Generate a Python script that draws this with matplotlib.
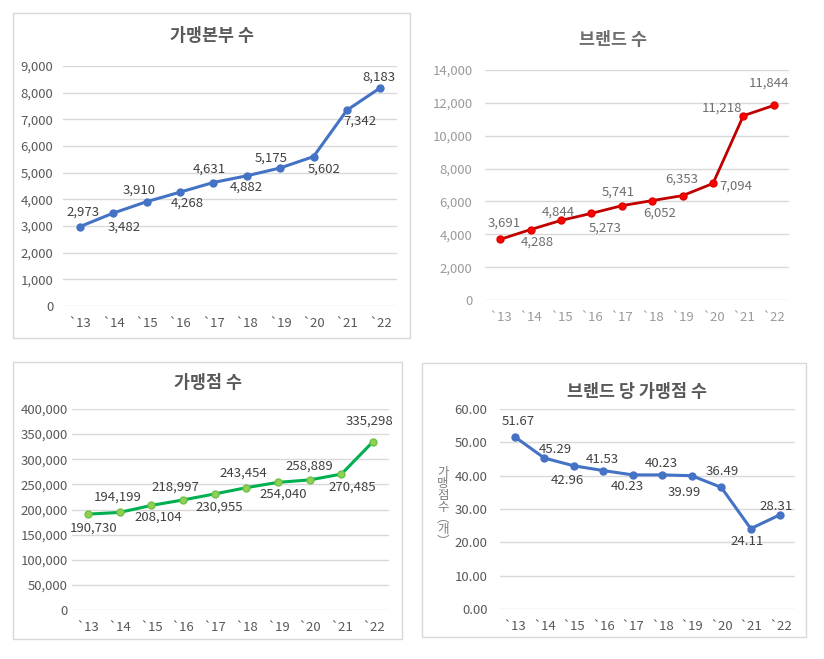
import matplotlib.pyplot as plt
from matplotlib.patches import Rectangle

plt.rcParams['font.family'] = ['Noto Sans CJK KR', 'DejaVu Sans']

# ============================================================
# Data
# ============================================================
years = ['`13', '`14', '`15', '`16', '`17', '`18', '`19', '`20', '`21', '`22']

hq_counts = [2973, 3482, 3910, 4268, 4631, 4882, 5175, 5602, 7342, 8183]
brand_counts = [3691, 4288, 4844, 5273, 5741, 6052, 6353, 7094, 11218, 11844]
store_counts = [190730, 194199, 208104, 218997, 230955, 243454, 254040, 258889, 270485, 335298]
stores_per_brand = [51.67, 45.29, 42.96, 41.53, 40.23, 40.23, 39.99, 36.49, 24.11, 28.31]

# label offsets in pixels (dx, dy) relative to each point
off_hq = [(3, 15), (11, -14), (-7, 12), (7, -11), (-4, 13), (0, -11), (-9, 10), (11, -13), (13, -11), (-1, 11)]
off_brand = [(4, 16), (7, -13), (-3, 8), (14, -15), (-4, 14), (7, -13), (-1, 16), (23, -3), (-21, 8), (-5, 22)]
off_store = [(6, -14), (-2, 15), (7, -12), (-8, 13), (5, -13), (-3, 15), (5, -12), (0, 14), (11, -13), (-4, 20)]
off_ratio = [(4, 15), (11, 9), (-6, -15), (-1, 11), (-5, -12), (-1, 11), (-7, -17), (1, 16), (-4, -13), (-4, 8)]

W, H = 824, 659
fig = plt.figure(figsize=(W / 100, H / 100), dpi=100)


def px_axes(x0, y0, x1, y1):
    return fig.add_axes([x0 / W, 1 - y1 / H, (x1 - x0) / W, (y1 - y0) / H])


def border(x0, y0, x1, y1):
    fig.patches.append(Rectangle((x0 / W, 1 - y1 / H), (x1 - x0) / W, (y1 - y0) / H,
                                 transform=fig.transFigure, fill=False,
                                 edgecolor='#d9d9d9', linewidth=1.0))


def style_axes(ax, ymax, ystep, fmt, tick_color, ypad):
    ax.set_xlim(-0.5, len(years) - 0.5)
    ax.set_ylim(0, ymax)
    ticks = [i * ystep for i in range(int(round(ymax / ystep)) + 1)]
    ax.set_yticks(ticks)
    ax.set_yticklabels([fmt(t) for t in ticks])
    ax.set_xticks(range(len(years)))
    ax.set_xticklabels(years)
    for s in ax.spines.values():
        s.set_visible(False)
    ax.grid(axis='y', color='#d9d9d9', linewidth=1.0)
    ax.set_axisbelow(True)
    ax.tick_params(length=0, labelsize=9.5, colors=tick_color)
    ax.tick_params(axis='y', pad=ypad)
    ax.tick_params(axis='x', pad=8)
    ax.patch.set_alpha(0)


def add_labels(ax, values, offsets, fmt, color):
    for i, (v, (dx, dy)) in enumerate(zip(values, offsets)):
        ax.annotate(fmt(v), (i, v), xytext=(dx, dy), textcoords='offset pixels',
                    ha='center', va='center', fontsize=9.5, color=color)


comma = lambda v: f'{v:,.0f}'
two = lambda v: f'{v:.2f}'

# ---------------- Panel 1: 가맹본부 수 ----------------
border(13, 13, 410, 338)
ax1 = px_axes(63, 66, 397, 306)
style_axes(ax1, 9000, 1000, comma, '#595959', 7)
ax1.plot(range(len(years)), hq_counts, color='#4472C4', linewidth=2.2,
         marker='o', markersize=5, zorder=3)
add_labels(ax1, hq_counts, off_hq, comma, '#404040')
fig.text(212 / W, 1 - 36 / H, '가맹본부 수', ha='center', va='center',
         fontsize=12.5, fontweight='bold', color='#595959')

# ---------------- Panel 2: 브랜드 수 ----------------
ax2 = px_axes(485, 70, 789, 300)
style_axes(ax2, 14000, 2000, comma, '#9a9a9a', 9)
ax2.plot(range(len(years)), brand_counts, color='#C00000', linewidth=2.0,
         marker='o', markersize=5, markerfacecolor='#FF0000',
         markeredgecolor='#E00000', zorder=3)
add_labels(ax2, brand_counts, off_brand, comma, '#6e6e6e')
fig.text(613 / W, 1 - 40 / H, '브랜드 수', ha='center', va='center',
         fontsize=12.5, fontweight='bold', color='#6e6e6e')

# ---------------- Panel 3: 가맹점 수 ----------------
border(13, 362, 402, 639)
ax3 = px_axes(72, 409, 389, 610)
style_axes(ax3, 400000, 50000, comma, '#595959', 3)
ax3.plot(range(len(years)), store_counts, color='#00B050', linewidth=2.2,
         marker='o', markersize=5, markerfacecolor='#92D050',
         markeredgecolor='#6CC24A', zorder=3)
add_labels(ax3, store_counts, off_store, comma, '#404040')
fig.text(208 / W, 1 - 383 / H, '가맹점 수', ha='center', va='center',
         fontsize=12.5, fontweight='bold', color='#595959')

# ---------------- Panel 4: 브랜드 당 가맹점 수 ----------------
border(422, 363, 806, 637)
ax4 = px_axes(500, 409, 795, 609)
style_axes(ax4, 60, 10, two, '#595959', 9)
ax4.plot(range(len(years)), stores_per_brand, color='#4472C4', linewidth=2.2,
         marker='o', markersize=5, zorder=3)
add_labels(ax4, stores_per_brand, off_ratio, two, '#404040')
fig.text(637 / W, 1 - 392 / H, '브랜드 당 가맹점 수', ha='center', va='center',
         fontsize=12.5, fontweight='bold', color='#595959')
fig.text(443 / W, 1 - 507 / H, '\n'.join('가맹점수︵개︶'), ha='center', va='center',
         fontsize=9, color='#7f7f7f', linespacing=0.85)

fig.savefig('out.png', dpi=100)
